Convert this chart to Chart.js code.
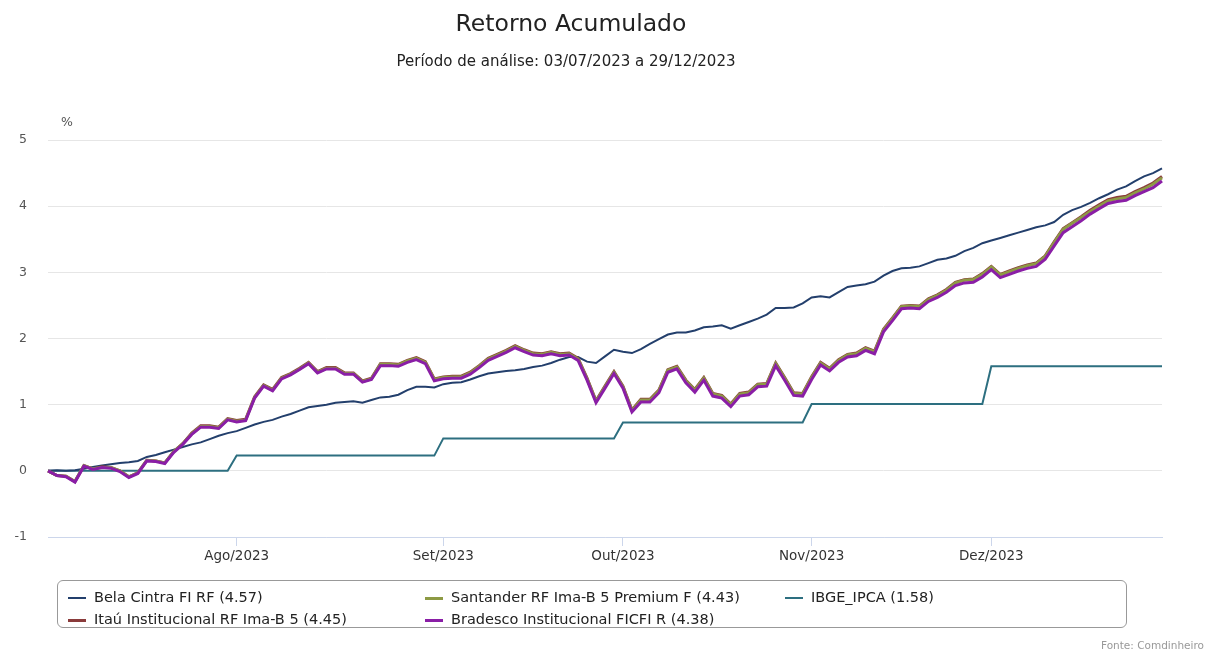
<!DOCTYPE html>
<html>
<head>
<meta charset="utf-8">
<script src="https://cdn.jsdelivr.net/npm/chart.js@4.4.0/dist/chart.umd.min.js"></script>
<style>
  body { margin: 0; background: #fff; font-family: "DejaVu Sans", Verdana, sans-serif; }
  #wrap { position: relative; width: 1208px; height: 652px; overflow: hidden; }
  #titulo { position: absolute; top: 9px; left: 0; width: 1142px; text-align: center; font-size: 23.5px; color: #222; }
  #subtitulo { position: absolute; top: 52px; left: 0; width: 1132px; text-align: center; font-size: 15px; color: #222; }
  #unidade { position: absolute; top: 114px; left: 61px; font-size: 12.5px; color: #555; }
  #legenda { position: absolute; left: 57px; top: 580px; width: 1070px; height: 48px; border: 1px solid #999; border-radius: 6px; box-sizing: border-box; }
  .item { position: absolute; font-size: 14.5px; color: #222; white-space: nowrap; }
  .item span { display: inline-block; width: 18px; vertical-align: middle; margin-right: 8px; }
  #fonte { position: absolute; left: 1101px; top: 639px; font-size: 10.5px; color: #999; }
</style>
</head>
<body>
<div id="wrap">
  <canvas id="grafico" width="1208" height="652"></canvas>
  <div id="titulo">Retorno Acumulado</div>
  <div id="subtitulo">Período de análise: 03/07/2023 a 29/12/2023</div>
  <div id="unidade">%</div>
  <div id="legenda"></div>
  <div id="fonte">Fonte: Comdinheiro</div>
</div>
<script>
// ---------------- dados ----------------
// dias úteis de cada mês (03/07/2023 a 29/12/2023)
var diasJul = [3,4,5,6,7,10,11,12,13,14,17,18,19,20,21,24,25,26,27,28,31];
var diasAgo = [1,2,3,4,7,8,9,10,11,14,15,16,17,18,21,22,23,24,25,28,29,30,31];
var diasSet = [1,4,5,6,8,11,12,13,14,15,18,19,20,21,22,25,26,27,28,29];
var diasOut = [2,3,4,5,6,9,10,11,13,16,17,18,19,20,23,24,25,26,27,30,31];
var diasNov = [1,3,6,7,8,9,10,13,14,16,17,20,21,22,23,24,27,28,29,30];
var diasDez = [1,4,5,6,7,8,11,12,13,14,15,18,19,20,21,22,26,27,28,29];

var rotulosMes = ["Ago/2023", "Set/2023", "Out/2023", "Nov/2023", "Dez/2023"];

var nomes = [
  "Bela Cintra FI RF (4.57)",
  "Itaú Institucional RF Ima-B 5 (4.45)",
  "Santander RF Ima-B 5 Premium F (4.43)",
  "Bradesco Institucional FICFI R (4.38)",
  "IBGE_IPCA (1.58)"
];

var belaCintra = [0,0.01,0,0.01,0.03,0.06,0.08,0.10,0.12,0.13,0.15,0.21,0.24,0.28,0.32,0.36,0.40,0.43,0.48,0.53,0.57,
  0.60,0.65,0.70,0.74,0.77,0.82,0.86,0.91,0.96,0.98,1.00,1.03,1.04,1.05,1.03,1.07,1.11,1.12,1.15,1.22,1.27,1.27,1.26,
  1.31,1.33,1.34,1.38,1.43,1.47,1.49,1.51,1.52,1.54,1.57,1.59,1.63,1.68,1.72,1.72,1.65,1.63,1.73,1.83,
  1.80,1.78,1.84,1.92,1.99,2.06,2.09,2.09,2.12,2.17,2.18,2.20,2.15,2.20,2.25,2.30,2.36,2.46,2.46,2.47,2.53,
  2.62,2.64,2.62,2.70,2.78,2.80,2.82,2.86,2.95,3.02,3.06,3.07,3.09,3.14,3.19,3.21,3.25,3.32,3.37,3.44,
  3.48,3.52,3.56,3.60,3.64,3.68,3.71,3.76,3.87,3.94,3.99,4.05,4.12,4.18,4.25,4.30,4.38,4.45,4.50,4.57];

var itau = [0,-0.07,-0.08,-0.16,0.08,0.03,0.06,0.05,0,-0.09,-0.03,0.16,0.15,0.12,0.29,0.41,0.57,0.68,0.68,0.66,0.79,
  0.76,0.78,1.12,1.30,1.23,1.41,1.47,1.55,1.64,1.50,1.56,1.56,1.48,1.48,1.36,1.40,1.62,1.62,1.61,1.67,1.71,1.65,1.39,
  1.42,1.43,1.43,1.49,1.59,1.70,1.76,1.82,1.89,1.83,1.78,1.77,1.80,1.77,1.78,1.70,1.40,1.06,1.28,1.50,
  1.28,0.92,1.08,1.08,1.22,1.53,1.58,1.37,1.23,1.41,1.17,1.14,1.01,1.17,1.19,1.31,1.32,1.63,1.41,1.18,1.17,
  1.42,1.64,1.55,1.68,1.76,1.78,1.86,1.81,2.14,2.31,2.49,2.50,2.49,2.60,2.66,2.74,2.85,2.89,2.90,2.98,
  3.09,2.97,3.02,3.07,3.11,3.14,3.25,3.46,3.66,3.75,3.84,3.94,4.02,4.10,4.13,4.15,4.22,4.28,4.35,4.45];

var santander = [0,-0.07,-0.08,-0.16,0.08,0.03,0.05,0.05,0,-0.09,-0.03,0.16,0.15,0.12,0.29,0.41,0.56,0.67,0.67,0.65,0.78,
  0.75,0.77,1.11,1.29,1.22,1.40,1.46,1.54,1.63,1.49,1.55,1.55,1.47,1.47,1.35,1.39,1.61,1.61,1.60,1.66,1.70,1.64,1.38,
  1.41,1.42,1.42,1.48,1.58,1.69,1.75,1.81,1.88,1.82,1.77,1.76,1.79,1.76,1.77,1.69,1.39,1.05,1.27,1.49,
  1.27,0.91,1.07,1.07,1.21,1.52,1.57,1.36,1.22,1.40,1.16,1.13,1.00,1.16,1.18,1.30,1.31,1.62,1.40,1.17,1.16,
  1.41,1.63,1.54,1.67,1.75,1.77,1.85,1.80,2.13,2.30,2.48,2.49,2.48,2.59,2.65,2.73,2.84,2.88,2.89,2.97,
  3.08,2.96,3.01,3.06,3.10,3.13,3.24,3.45,3.65,3.74,3.83,3.92,4.00,4.08,4.11,4.13,4.20,4.26,4.33,4.43];

var bradesco = [0,-0.07,-0.09,-0.17,0.07,0.02,0.05,0.04,-0.01,-0.10,-0.04,0.15,0.14,0.11,0.28,0.40,0.55,0.66,0.66,0.64,0.77,
  0.74,0.76,1.10,1.28,1.21,1.39,1.45,1.53,1.62,1.48,1.54,1.54,1.46,1.46,1.34,1.38,1.59,1.59,1.58,1.64,1.68,1.62,1.36,
  1.39,1.40,1.40,1.46,1.56,1.67,1.73,1.79,1.86,1.80,1.75,1.74,1.77,1.74,1.75,1.67,1.37,1.03,1.25,1.47,
  1.25,0.89,1.04,1.04,1.18,1.49,1.54,1.33,1.19,1.37,1.13,1.10,0.97,1.13,1.15,1.27,1.28,1.59,1.37,1.14,1.13,
  1.38,1.60,1.51,1.64,1.72,1.74,1.82,1.77,2.10,2.27,2.45,2.46,2.45,2.56,2.62,2.70,2.80,2.84,2.85,2.93,
  3.04,2.92,2.97,3.02,3.06,3.09,3.20,3.40,3.60,3.69,3.78,3.88,3.96,4.04,4.07,4.09,4.16,4.22,4.28,4.38];

var ipca = [0,0,0,0,0,0,0,0,0,0,0,0,0,0,0,0,0,0,0,0,0,
  0.23,0.23,0.23,0.23,0.23,0.23,0.23,0.23,0.23,0.23,0.23,0.23,0.23,0.23,0.23,0.23,0.23,0.23,0.23,0.23,0.23,0.23,0.23,
  0.49,0.49,0.49,0.49,0.49,0.49,0.49,0.49,0.49,0.49,0.49,0.49,0.49,0.49,0.49,0.49,0.49,0.49,0.49,0.49,
  0.73,0.73,0.73,0.73,0.73,0.73,0.73,0.73,0.73,0.73,0.73,0.73,0.73,0.73,0.73,0.73,0.73,0.73,0.73,0.73,0.73,
  1.01,1.01,1.01,1.01,1.01,1.01,1.01,1.01,1.01,1.01,1.01,1.01,1.01,1.01,1.01,1.01,1.01,1.01,1.01,1.01,
  1.58,1.58,1.58,1.58,1.58,1.58,1.58,1.58,1.58,1.58,1.58,1.58,1.58,1.58,1.58,1.58,1.58,1.58,1.58,1.58];

var cores = ["#233f6c", "#8a3b3b", "#8d9a44", "#8a1ea6", "#2d6f80"];
var espessuras = [2, 3, 3, 3, 2];
var series = [belaCintra, itau, santander, bradesco, ipca];
// ordem de desenho: bradesco por cima
var ordens = [3, 2, 1, 0, 4];

// ---------------- rótulos do eixo x ----------------
var datas = [];
var inicioMes = {};
var meses = [[diasJul, "07"], [diasAgo, "08"], [diasSet, "09"], [diasOut, "10"], [diasNov, "11"], [diasDez, "12"]];
meses.forEach(function (m, k) {
  if (k > 0) inicioMes[datas.length] = rotulosMes[k - 1];
  m[0].forEach(function (d) {
    datas.push((d < 10 ? "0" + d : d) + "/" + m[1] + "/2023");
  });
});

// ---------------- gráfico ----------------
var ctx = document.getElementById("grafico");

new Chart(ctx, {
  type: "line",
  data: {
    labels: datas,
    datasets: series.map(function (s, i) {
      return {
        label: nomes[i],
        data: s,
        borderColor: cores[i],
        backgroundColor: cores[i],
        borderWidth: espessuras[i],
        pointRadius: 0,
        tension: 0,
        order: ordens[i]
      };
    })
  },
  options: {
    responsive: false,
    animation: false,
    layout: {
      padding: { left: 0, right: 46, top: 140, bottom: 85 }
    },
    plugins: {
      legend: { display: false },
      title: { display: false },
      tooltip: { enabled: false }
    },
    scales: {
      x: {
        type: "category",
        offset: false,
        afterFit: function (scale) { scale.height = 30; },
        grid: {
          drawOnChartArea: false,
          drawTicks: true,
          tickLength: 9,
          color: "#ccd6eb"
        },
        border: { color: "#ccd6eb" },
        ticks: {
          autoSkip: false,
          maxRotation: 0,
          padding: 2,
          color: "#333",
          font: { family: "DejaVu Sans", size: 13.5 },
          callback: function (v, i) {
            return inicioMes[i] !== undefined ? inicioMes[i] : null;
          }
        }
      },
      y: {
        min: -1,
        max: 5,
        afterFit: function (scale) { scale.width = 48; },
        grid: { color: "#e6e6e6", drawTicks: false },
        border: { display: false },
        ticks: {
          stepSize: 1,
          padding: 21,
          color: "#555",
          font: { family: "DejaVu Sans", size: 12.5 }
        }
      }
    }
  }
});

// ---------------- legenda ----------------
var legenda = document.getElementById("legenda");
var posLegenda = [[10, 8], [10, 30], [367, 8], [367, 30], [727, 8]];
nomes.forEach(function (n, i) {
  var div = document.createElement("div");
  div.className = "item";
  div.style.left = posLegenda[i][0] + "px";
  div.style.top = posLegenda[i][1] + "px";
  div.innerHTML = '<span style="height:' + (espessuras[i]) + 'px;background:' + cores[i] + '"></span>' + n;
  legenda.appendChild(div);
});
</script>
</body>
</html>
